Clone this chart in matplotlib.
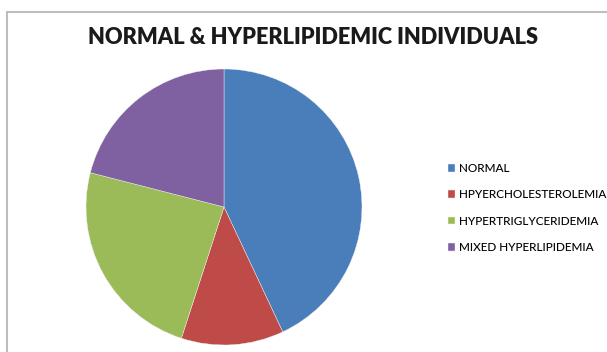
import matplotlib.pyplot as plt
from matplotlib.patches import Rectangle

labels = ['NORMAL', 'HPYERCHOLESTEROLEMIA', 'HYPERTRIGLYCERIDEMIA', 'MIXED HYPERLIPIDEMIA']
values = [43, 12, 24, 21]
colors = ['#4A7EBB', '#BE4B48', '#9BBB59', '#7F60A0']

W, H = 607, 352
fig = plt.figure(figsize=(W / 100, H / 100), dpi=100)

# outer chart border (runs off the right and bottom of the picture)
fig.patches.append(Rectangle((7 / W, -0.2), 1.2, 1.2 - 12 / H,
                             transform=fig.transFigure, fill=False,
                             edgecolor='#BDBDBD', linewidth=1.5))

ax = fig.add_axes([86 / W, 7 / H, 276 / W, 276 / H])
wedges, _ = ax.pie(values, colors=colors, startangle=90, counterclock=False,
                   wedgeprops=dict(linewidth=0.3, edgecolor='#F2F2F2'))
ax.set_xlim(-1, 1)
ax.set_ylim(-1, 1)
ax.set_aspect('equal')

fig.text(313 / W, 1 - 38 / H, 'NORMAL & HYPERLIPIDEMIC INDIVIDUALS',
         ha='center', va='center', fontsize=15.7, fontweight='heavy',
         family='Lato', color='#1A1A1A')

fig.legend(wedges, labels, loc='upper left', bbox_to_anchor=(448 / W, 1 - 163 / H),
           frameon=False, handlelength=0.6, handleheight=0.6, handletextpad=0.3,
           labelspacing=1.3, borderpad=0, borderaxespad=0,
           prop=dict(family='Lato', size=8.5, weight='medium'))

fig.savefig('out.png', dpi=100)
